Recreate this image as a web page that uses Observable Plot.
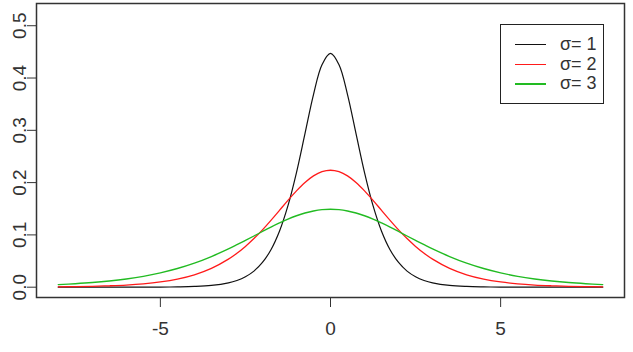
<!DOCTYPE html>
<html>
<head>
<meta charset="utf-8">
<script src="https://cdn.jsdelivr.net/npm/d3@7"></script>
<script src="https://cdn.jsdelivr.net/npm/@observablehq/plot@0.6"></script>
<style>
  html, body { margin: 0; padding: 0; background: #fff; }
  #wrap { position: relative; width: 633px; height: 352px; font-family: "Liberation Sans", Arial, sans-serif; }
  #legend { position: absolute; left: 500px; top: 24px; width: 104px; height: 80px; box-sizing: border-box;
            border: 1.4px solid #222; background: #fff; }
  .row { position: absolute; left: 0; width: 100%; height: 20px; }
  .swatch { position: absolute; left: 14px; width: 31px; top: 10px; }
  .lab { position: absolute; left: 59px; top: 0; line-height: 20px; font-size: 18px; color: #333; white-space: nowrap; }
</style>
</head>
<body>
<div id="wrap"><div id="chart"></div><div id="legend"></div></div>
<script>
// x positions at which the curves were read
const xs = [-8, -7.5, -7, -6.5, -6, -5.5, -5, -4.5, -4, -3.5,
  -3, -2.75, -2.5, -2.25, -2, -1.75, -1.5, -1.25, -1, -0.75, -0.5, -0.25,
  0, 0.25, 0.5, 0.75, 1, 1.25, 1.5, 1.75, 2, 2.25, 2.5, 2.75, 3,
  3.5, 4, 4.5, 5, 5.5, 6, 6.5, 7, 7.5, 8];

// sigma = 1 (black)
const sigma1 = [0, 0, 0, 0, 0, 0.0001, 0.0002, 0.0006, 0.0014, 0.0034,
  0.0083, 0.0129, 0.020, 0.0308, 0.0473, 0.0717, 0.1071, 0.156, 0.2193, 0.2936, 0.3683, 0.4254,
  0.447, 0.4254, 0.3683, 0.2936, 0.2193, 0.156, 0.1071, 0.0717, 0.0473, 0.0308, 0.020, 0.0129, 0.0083,
  0.0034, 0.0014, 0.0006, 0.0002, 0.0001, 0, 0, 0, 0, 0];

// sigma = 2 (red)
const sigma2 = [0.0007, 0.0011, 0.0017, 0.0027, 0.0041, 0.0064, 0.010, 0.0154, 0.0236, 0.0359,
  0.0536, 0.0649, 0.078, 0.093, 0.1097, 0.1279, 0.1469, 0.1661, 0.1842, 0.2002, 0.2128, 0.2208,
  0.2236, 0.2208, 0.2128, 0.2002, 0.1842, 0.1661, 0.1469, 0.1279, 0.1097, 0.093, 0.078, 0.0649, 0.0536,
  0.0359, 0.0236, 0.0154, 0.010, 0.0064, 0.0041, 0.0027, 0.0017, 0.0011, 0.0007];

// sigma = 3 (green)
const sigma3 = [0.005, 0.0067, 0.0089, 0.0119, 0.0158, 0.0208, 0.0274, 0.0357, 0.046, 0.0586,
  0.0732, 0.0812, 0.0895, 0.0979, 0.1065, 0.1149, 0.1228, 0.1302, 0.1366, 0.1419, 0.1458, 0.1483,
  0.1491, 0.1483, 0.1458, 0.1419, 0.1366, 0.1302, 0.1228, 0.1149, 0.1065, 0.0979, 0.0895, 0.0812, 0.0732,
  0.0586, 0.046, 0.0357, 0.0274, 0.0208, 0.0158, 0.0119, 0.0089, 0.0067, 0.005];

const seriesNames = ["σ= 1", "σ= 2", "σ= 3"];
const seriesColors = ["#111111", "#ff1a1a", "#22bb22"];
const seriesWidths = [1.2, 1.3, 1.4];
const legendWidths = [1, 1, 2.2];
const xTicks = [-5, 0, 5];
const yTicks = [0, 0.1, 0.2, 0.3, 0.4, 0.5];

const seriesValues = [sigma1, sigma2, sigma3];
const tables = seriesValues.map(vals => xs.map((x, i) => ({x, y: vals[i]})));

const chart = Plot.plot({
  width: 633,
  height: 352,
  marginLeft: 36,
  marginRight: 9,
  marginTop: 3,
  marginBottom: 55,
  x: {domain: [-8.64, 8.64]},
  y: {domain: [-0.0197, 0.5425]},
  style: {fontFamily: "'Liberation Sans', Arial, sans-serif", fontSize: "19px", background: "white", color: "#333"},
  marks: [
    Plot.axisX({ticks: xTicks, tickSize: 10, tickPadding: 14, label: null, tickFormat: d => String(d), stroke: "#333"}),
    Plot.axisY({ticks: yTicks, tickSize: 9, tickPadding: 2, tickRotate: -90, label: null, tickFormat: d => d.toFixed(1), stroke: "#333"}),
    ...tables.map((t, i) => Plot.line(t, {x: "x", y: "y", stroke: seriesColors[i], strokeWidth: seriesWidths[i], curve: "catmull-rom"})),
    Plot.frame({stroke: "#333", strokeWidth: 1.5})
  ]
});
document.getElementById("chart").appendChild(chart);

const legend = document.getElementById("legend");
seriesNames.forEach((name, i) => {
  const row = document.createElement("div");
  row.className = "row";
  row.style.top = (9 + i * 19.5) + "px";
  const sw = document.createElement("div");
  sw.className = "swatch";
  sw.style.borderTop = legendWidths[i] + "px solid " + seriesColors[i];
  const lab = document.createElement("div");
  lab.className = "lab";
  lab.textContent = name;
  row.appendChild(sw);
  row.appendChild(lab);
  legend.appendChild(row);
});
</script>
</body>
</html>
